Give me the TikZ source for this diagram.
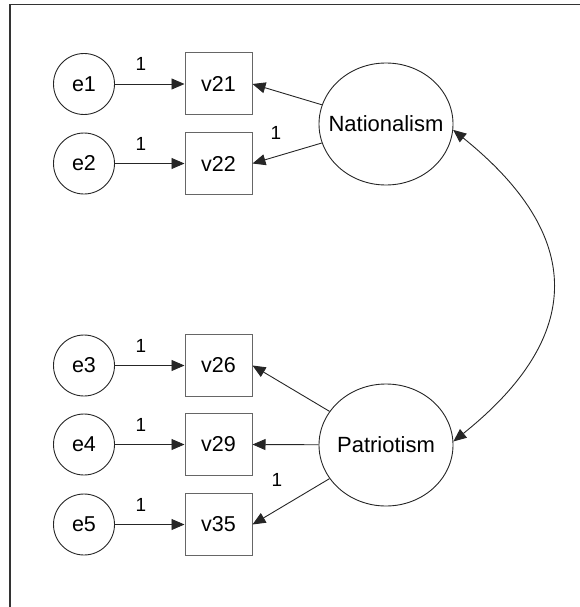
\documentclass[tikz,border=0pt]{standalone}
\usepackage{fontspec}
\setmainfont{Liberation Sans}
\usetikzlibrary{shapes.geometric,arrows.meta}
\begin{document}
\begin{tikzpicture}[x=1pt,y=-1pt,
  errc/.style={circle,draw=black!85,line width=0.9pt,minimum size=61pt,inner sep=0pt,font=\fontsize{21.5}{24}\selectfont},
  obs/.style={rectangle,draw=black!60,line width=1pt,minimum width=67pt,minimum height=62pt,inner sep=0pt,font=\fontsize{21.5}{24}\selectfont},
  lat/.style={ellipse,draw=black!85,line width=0.9pt,minimum width=134pt,minimum height=122pt,inner sep=0pt},
  lattext/.style={font=\fontsize{22}{26}\selectfont},
  arr/.style={draw=black!85,line width=0.9pt,-{Triangle[length=13pt,width=11pt]}},
  darr/.style={draw=black!85,line width=0.9pt,{Triangle[length=13pt,width=11pt]}-{Triangle[length=13pt,width=11pt]}},
  one/.style={font=\fontsize{19}{21}\selectfont,inner sep=0pt}]
\useasboundingbox (0,0) rectangle (580,607);
\draw[black!80,line width=1.8pt] (580,4.5) -- (10,4.5) -- (10,607);

\node[errc] (e1) at (84,84) {e1};
\node[errc] (e2) at (84,163.5) {e2};
\node[errc] (e3) at (84,365.5) {e3};
\node[errc] (e4) at (84,444.5) {e4};
\node[errc] (e5) at (84,524.5) {e5};

\node[obs] (v21) at (218.5,84) {v21};
\node[obs] (v22) at (218.5,163.5) {v22};
\node[obs] (v26) at (218.5,365.5) {v26};
\node[obs] (v29) at (218.5,444.5) {v29};
\node[obs] (v35) at (218.5,524.5) {v35};

\node[lat] (N) at (386,124) {};
\node[lattext] (Nt) at (N.center) {Nationalism};
\node[lat] (P) at (386,445) {};
\node[lattext] (Pt) at (P.center) {Patriotism};

\draw[arr] (e1) -- (v21);
\draw[arr] (e2) -- (v22);
\draw[arr] (e3) -- (v26);
\draw[arr] (e4) -- (v29);
\draw[arr] (e5) -- (v35);

\node[one] (l1) at (141,64) {1};
\node[one] (l2) at (141,143.5) {1};
\node[one] (l3) at (141,345.5) {1};
\node[one] (l4) at (141,424.5) {1};
\node[one] (l5) at (141,504.5) {1};

\draw[arr] (N) -- (v21.east);
\draw[arr] (N) -- (v22.east);
\draw[arr] (P) -- (v26.east);
\draw[arr] (P) -- (v29.east);
\draw[arr] (P) -- (v35.east);

\node[one] (l6) at (276,133) {1};
\node[one] (l7) at (277,480) {1};

\draw[darr] (N.-5) .. controls (585,236) and (585,336) .. (P.3);
\end{tikzpicture}
\end{document}
